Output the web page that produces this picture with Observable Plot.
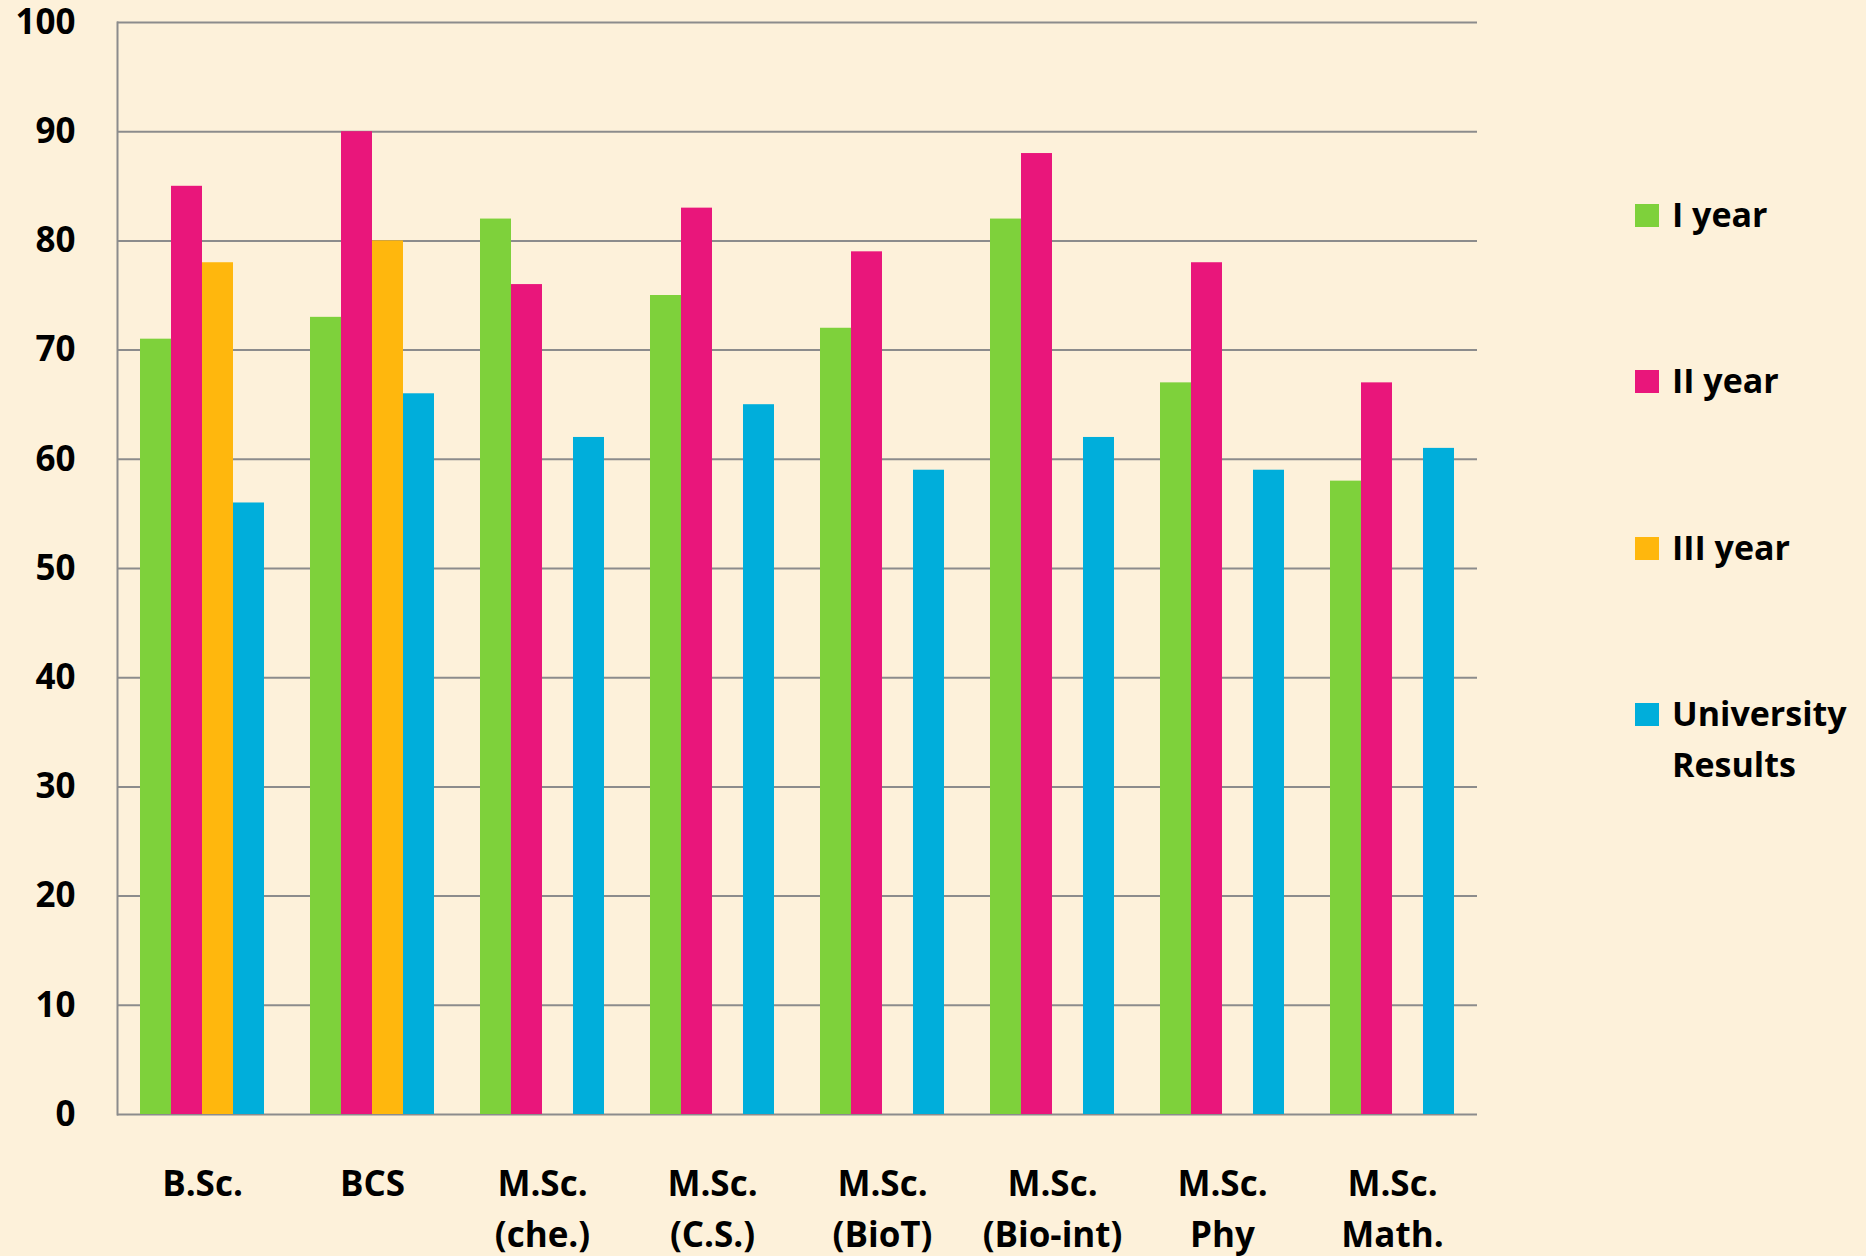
<!DOCTYPE html>
<html>
<head>
<meta charset="utf-8">
<script src="https://cdn.jsdelivr.net/npm/d3@7"></script>
<script src="https://cdn.jsdelivr.net/npm/@observablehq/plot@0.6"></script>
<style>
  html, body { margin: 0; padding: 0; background: #FDF1DA; }
  #wrap { position: relative; width: 1866px; height: 1256px; overflow: hidden;
    background: #FDF1DA; font-family: "Open Sans", Lato, sans-serif; font-weight: bold; color: #000; }
  #legend { position: absolute; left: 1635px; top: 189px; }
  .item { position: absolute; left: 0; width: 230px; font-size: 34px; line-height: 51px; }
  .sw { position: absolute; left: 0; top: 15px; width: 24px; height: 23px; }
  .lab { position: absolute; left: 37px; top: 0; white-space: nowrap; }
</style>
</head>
<body>
<div id="wrap"><div id="chart"></div><div id="legend"></div></div>
<script>
const categories = ["B.Sc.", "BCS", "M.Sc. (che.)", "M.Sc. (C.S.)", "M.Sc. (BioT)", "M.Sc. (Bio-int)", "M.Sc. Phy", "M.Sc. Math."];
const tickLabels = ["B.Sc.", "BCS", "M.Sc.\n(che.)", "M.Sc.\n(C.S.)", "M.Sc.\n(BioT)", "M.Sc.\n(Bio-int)", "M.Sc.\nPhy", "M.Sc.\nMath."];
const series = ["I year", "II year", "III year", "University Results"];
const legendLabels = ["I year", "II year", "III year", "University<br>Results"];
const colors = ["#7ED13B", "#E9167B", "#FFB70D", "#00AEDB"];
const firstYear = [71, 73, 82, 75, 72, 82, 67, 58];
const secondYear = [85, 90, 76, 83, 79, 88, 78, 67];
const thirdYear = [78, 80, null, null, null, null, null, null];
const university = [56, 66, 62, 65, 59, 62, 59, 61];
const yTicks = [0, 10, 20, 30, 40, 50, 60, 70, 80, 90, 100];

const seriesValues = [firstYear, secondYear, thirdYear, university];
const data = [];
categories.forEach((c, i) => {
  series.forEach((s, j) => {
    const v = seriesValues[j][i];
    if (v != null) data.push({cat: c, series: s, value: v});
  });
});

const chart = Plot.plot({
  width: 1866,
  height: 1256,
  marginLeft: 116,
  marginRight: 389,
  marginTop: 22,
  marginBottom: 142,
  style: {background: "transparent", fontFamily: "'Open Sans', Lato, sans-serif", color: "#000", overflow: "visible"},
  fx: {domain: categories, paddingInner: 0, paddingOuter: 0, label: null},
  x: {domain: series, paddingInner: 0, paddingOuter: 0.74, axis: null},
  y: {domain: [0, 100], axis: null},
  color: {domain: series, range: colors},
  marks: [
    Plot.ruleY(yTicks, {stroke: "#8C8C8C", strokeWidth: 2}),
    Plot.barY(data, {fx: "cat", x: "series", y: "value", fill: "series"}),
    Plot.frame({anchor: "left", stroke: "#8C8C8C", strokeWidth: 2, facet: "super"}),
    Plot.axisY({ticks: yTicks, tickSize: 0, tickPadding: 42, fontSize: 35, fontWeight: "bold", fill: "#000", label: null}),
    Plot.axisFx({anchor: "bottom", tickSize: 0, tickPadding: 45, fontSize: 35, fontWeight: "bold", fill: "#000",
      lineHeight: 1.46, label: null, tickFormat: d => tickLabels[categories.indexOf(d)]})
  ]
});
document.getElementById("chart").appendChild(chart);

const legend = document.getElementById("legend");
series.forEach((s, i) => {
  const item = document.createElement("div");
  item.className = "item";
  item.style.top = (i * 166.3) + "px";
  item.innerHTML = `<div class="sw" style="background:${colors[i]}"></div><div class="lab">${legendLabels[i]}</div>`;
  legend.appendChild(item);
});
</script>
</body>
</html>
